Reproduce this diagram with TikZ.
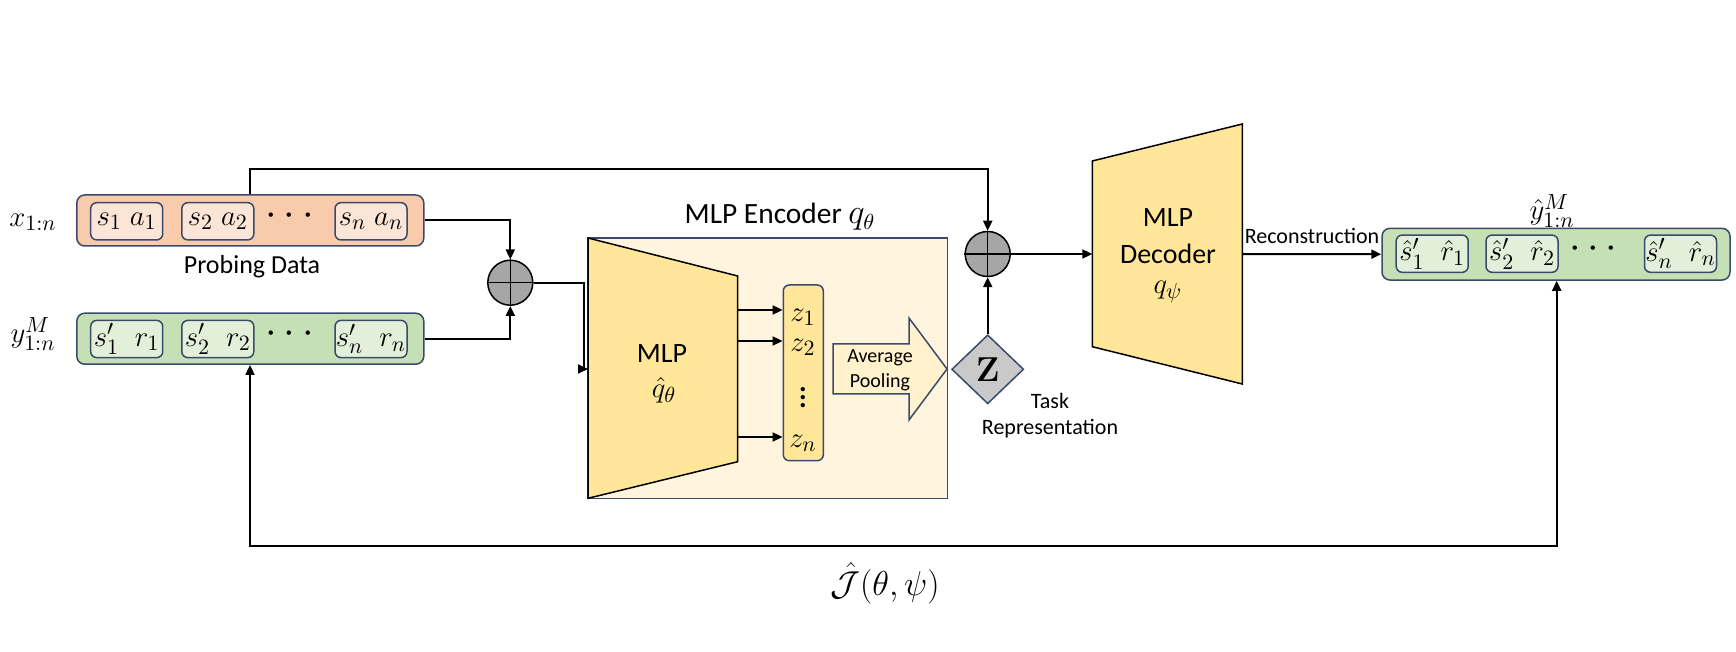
\documentclass[tikz,border=0pt]{standalone}
\usepackage[no-math]{fontspec}
\setmainfont{Carlito}
\usepackage{amsmath}
\usetikzlibrary{shapes.geometric,arrows.meta,calc}
\definecolor{bord}{HTML}{3A4A6B}
\definecolor{oOut}{HTML}{F8CBAD}
\definecolor{oIn}{HTML}{FBE5D6}
\definecolor{gOut}{HTML}{C5E0B4}
\definecolor{gIn}{HTML}{E2F0D9}
\definecolor{trap}{HTML}{FFE699}
\definecolor{encbg}{HTML}{FFF5DE}
\definecolor{poolF}{HTML}{FFF2CC}
\definecolor{circF}{HTML}{A6A6A6}
\definecolor{diaF}{HTML}{C9C9C9}
\begin{document}
\begin{tikzpicture}[x=0.5pt,y=-0.5pt,
  >={Triangle[length=5pt,width=4.5pt]},
  conn/.style={line width=1pt,->},
  mfont/.style={font=\fontsize{15.5}{18}\selectfont},
  dfont/.style={font=\fontsize{20}{22}\selectfont},
  outerbox/.style={draw=bord,line width=0.75pt,rounded corners=4pt,minimum width=173.5pt,minimum height=25.5pt,inner sep=0pt},
  innerbox/.style={draw=bord,line width=0.75pt,rounded corners=3pt,minimum width=36pt,minimum height=18.6pt,inner sep=0pt,mfont},
  plain/.style={inner sep=0pt,outer sep=0pt},
  sumc/.style={circle,draw=black,line width=0.75pt,fill=circF,minimum size=22.5pt,inner sep=0pt},
  trapz/.style={draw=black,line width=0.75pt,fill=trap}]
\useasboundingbox (0,0) rectangle (1736,652);

% input boxes
\node[outerbox,fill=oOut] (xb) at (250.3,220.5) {};
\node[innerbox,fill=oIn] (xa) at (126.7,221.3) {$s_1\hspace{4pt}a_1$};
\node[innerbox,fill=oIn] (xbb) at (217.8,221.3) {$s_2\hspace{4pt}a_2$};
\node[plain,dfont] (xd) at (293,216) {$\cdots$};
\node[innerbox,fill=oIn] (xc) at (371,221.3) {$s_n\hspace{4pt}a_n$};
\node[plain,mfont] (xl) at (33,222) {$x_{1:n}$};
\node[plain,font=\fontsize{13}{15}\selectfont] (pd) at (252,267) {Probing Data};

\node[outerbox,fill=gOut] (yb) at (250.3,338.7) {};
\node[innerbox,fill=gIn] (ya) at (126.7,339) {$s'_1\hspace{8pt}r_1$};
\node[innerbox,fill=gIn] (ybb) at (217.8,339) {$s'_2\hspace{8pt}r_2$};
\node[plain,dfont] (yd) at (293,334) {$\cdots$};
\node[innerbox,fill=gIn] (yc) at (371,339) {$s'_n\hspace{8pt}r_n$};
\node[plain,mfont] (yl) at (33,334) {$y^{M}_{1:n}$};

% first sum
\node[sumc] (c1) at (510.3,282.7) {};
\draw[line width=0.75pt] (c1.north) -- (c1.south) (c1.west) -- (c1.east);

% encoder
\node[draw=bord,line width=0.75pt,fill=encbg,minimum width=179.85pt,minimum height=130.15pt,inner sep=0pt] (enc) at (767.85,368.15) {};
\node[plain,font=\fontsize{14.7}{17}\selectfont] (enct) at (780,217) {MLP Encoder \fontsize{16}{18}\selectfont$q_\theta$};
\draw[trapz] (588,238) -- (737.7,276) -- (737.7,461.7) -- (588,498.3) -- cycle;
\coordinate (encin) at (588,369);
\node[plain,font=\fontsize{14}{17}\selectfont] (mlp1) at (662,354) {MLP};
\node[plain,mfont] (qh) at (664,390) {$\hat{q}_\theta$};
\node[draw=bord,line width=0.75pt,fill=trap,rounded corners=3pt,minimum width=20pt,minimum height=87.85pt,inner sep=0pt] (zb) at (803.3,372.85) {};
\node[plain,mfont] (z1) at (803,317) {$z_1$};
\node[plain,mfont] (z2) at (803,347) {$z_2$};
\node[plain,font=\fontsize{18}{20}\selectfont] (zv) at (803,392) {$\vdots$};
\node[plain,mfont] (zn) at (803,443) {$z_n$};
\coordinate (e1) at (737.7,310);
\coordinate (e2) at (737.7,341);
\coordinate (e3) at (737.7,437);
\draw[conn] (e1) -- (e1 -| zb.west);
\draw[conn] (e2) -- (e2 -| zb.west);
\draw[conn] (e3) -- (e3 -| zb.west);
\draw[draw=bord,line width=0.75pt,fill=poolF] (833,344) -- (909,344) -- (909,318) -- (947,369) -- (909,420) -- (909,394) -- (833,394) -- cycle;
\node[plain,align=center,font=\fontsize{10}{12.5}\selectfont] (pool) at (880,370) {Average\\Pooling};

% task representation
\node[diamond,draw=bord,line width=0.75pt,fill=diaF,minimum width=36pt,minimum height=34.5pt,inner sep=0pt,font=\fontsize{17}{19}\selectfont] (zd) at (987.7,369.3) {$\mathbf{Z}$};
\node[plain,align=center,font=\fontsize{11}{13}\selectfont] (tr) at (1050,416) {Task\\Representation};
\node[sumc] (c2) at (987.7,254) {};
\draw[line width=0.75pt] (c2.north) -- (c2.south) (c2.west) -- (c2.east);

% decoder
\draw[trapz] (1092.3,161) -- (1242.3,124) -- (1242.3,384) -- (1092.3,346.7) -- cycle;
\coordinate (decin) at (1092.3,254);
\coordinate (decout) at (1242.3,254);
\node[plain,font=\fontsize{14}{17}\selectfont] (mlp2) at (1168,218) {MLP};
\node[plain,font=\fontsize{14}{17}\selectfont] (dect) at (1168,254) {Decoder};
\node[plain,mfont] (qp) at (1168,292) {$q_\psi$};

% output box
\node[outerbox,fill=gOut,minimum width=174pt,minimum height=25.85pt] (hb) at (1556,254.2) {};
\node[innerbox,fill=gIn] (ha) at (1432.2,253.7) {$\hat{s}'_1\hspace{8pt}\hat{r}_1$};
\node[innerbox,fill=gIn] (hbb) at (1522,253.7) {$\hat{s}'_2\hspace{8pt}\hat{r}_2$};
\node[plain,dfont] (hd) at (1596.7,249) {$\cdots$};
\node[innerbox,fill=gIn] (hc) at (1680.5,253.7) {$\hat{s}'_n\hspace{8pt}\hat{r}_n$};
\node[plain,mfont] (hl) at (1552,211) {$\hat{y}^{M}_{1:n}$};
\node[plain,font=\fontsize{11}{13}\selectfont] (rec) at (1312,236) {Reconstruction};

% connectors
\coordinate (tl) at (250,169);
\draw[conn] (tl |- xb.north) -- (tl) -| (c2.north);
\draw[conn] (xb.east) -| (c1.north);
\draw[conn] (yb.east) -| (c1.south);
\draw[conn] (c1.east) -- ++(50.7,0) |- (encin);
\draw[conn] (zd.north) -- (c2.south);
\draw[conn] (c2.east) -- (decin);
\draw[conn] (decout) -- (hb.west);
\coordinate (fbL) at (250,546);
\coordinate (fbR) at (1556.7,546);
\draw[line width=1pt,<->] (fbL |- yb.south) -- (fbL) -- (fbR) -- (fbR |- hb.south);
\node[plain,font=\fontsize{19}{22}\selectfont] (J) at (885,583) {$\hat{\mathcal{J}}(\theta,\psi)$};
\end{tikzpicture}
\end{document}
